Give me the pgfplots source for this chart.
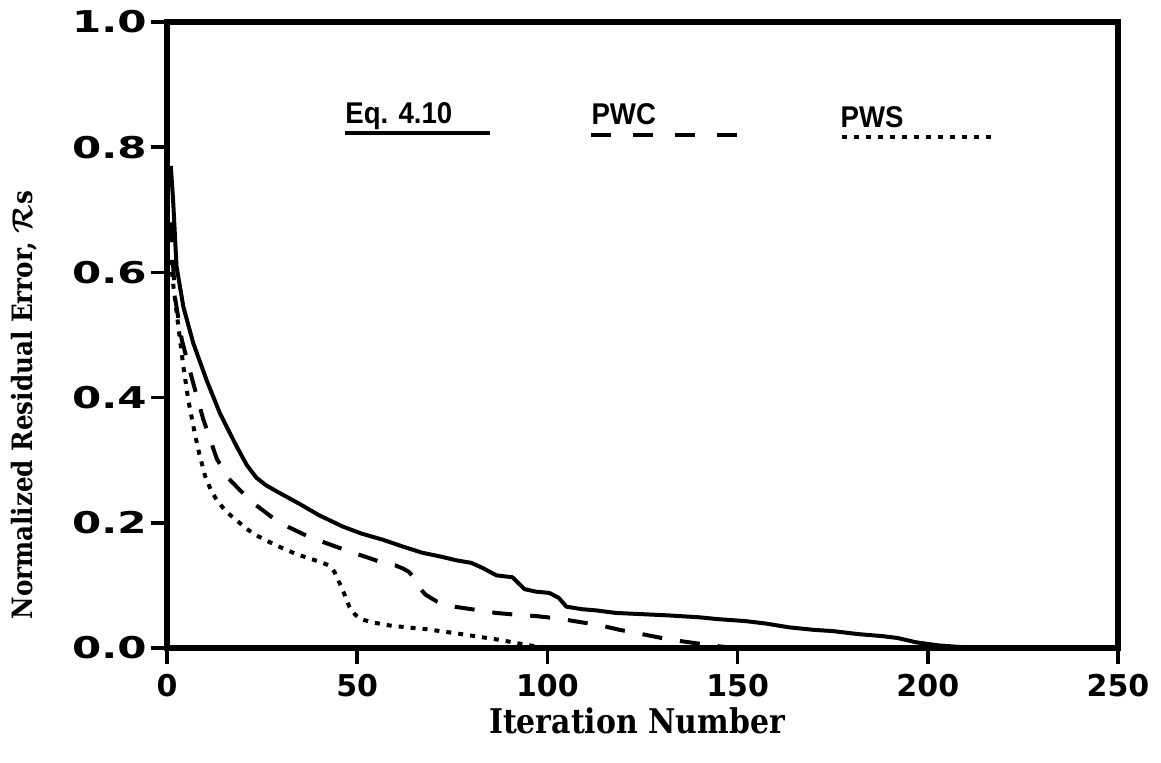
\documentclass[border=0pt]{standalone}
\usepackage{amsmath}
\usepackage{pgfplots}
\pgfplotsset{compat=1.18}
\usepackage{fontspec}
\setmainfont{DejaVu Serif}
\newfontfamily\ytickfont[FakeStretch=1.4]{DejaVu Sans}
\newfontfamily\xtickfont{DejaVu Sans}
\newfontfamily\labfont[FakeStretch=0.88]{DejaVu Serif}
\newfontfamily\legfont[FakeStretch=0.92]{Liberation Sans}

\begin{document}
\begin{tikzpicture}
\begin{axis}[
  scale only axis, width=475.5pt, height=313pt,
  xmin=0, xmax=250, ymin=0, ymax=1,
  axis line style={line width=2.6pt},
  xtick={0,50,100,150,200,250},
  xticklabels={0,50,100,150,200,250},
  ytick={0,0.2,0.4,0.6,0.8,1},
  yticklabels={0.0,0.2,0.4,0.6,0.8,1.0},
  xtick pos=bottom, ytick pos=left,
  tick align=outside,
  major tick length=8pt,
  tick style={line width=1.8pt, draw=black},
  yticklabel style={font=\ytickfont\bfseries\fontsize{15}{15}\selectfont, inner sep=0pt, xshift=-2pt},
  xticklabel style={font=\xtickfont\bfseries\fontsize{15}{15}\selectfont, inner sep=0pt, yshift=-5pt},
]
\addplot[black, line width=2pt, line join=round] coordinates {
(1,0.77)(1.6,0.716)(2.5,0.61)(4.3,0.545)(6.9,0.487)(10.4,0.428)(13.9,0.375)(18.3,0.322)(21,0.292)(23.5,0.272)(26,0.260)(28.9,0.250)(34.9,0.230)(40,0.212)(46.2,0.194)(51,0.183)(56.7,0.173)(62,0.162)(67.2,0.152)(72,0.146)(76.1,0.140)(80,0.136)(82.9,0.128)(86.6,0.116)(90.8,0.113)(94,0.094)(97,0.090)(100.5,0.088)(103,0.080)(105,0.066)(109,0.062)(112.9,0.060)(118,0.056)(125,0.054)(132,0.052)(140,0.049)(145,0.046)(152,0.043)(157.5,0.039)(163.5,0.033)(170,0.029)(175,0.027)(182,0.022)(188,0.019)(192,0.016)(197,0.009)(203,0.004)(210,0.001)(220,0)
};
\addplot[black, line width=2pt, line join=round, dash pattern=on 10pt off 9pt] coordinates {
(1,0.68)(1.3,0.645)(2.1,0.56)(3.9,0.492)(6.9,0.423)(9.5,0.366)(13.1,0.302)(16,0.272)(19.2,0.252)(23,0.230)(27.8,0.208)(32,0.193)(37.5,0.177)(43,0.165)(48,0.154)(53,0.144)(57.7,0.134)(60,0.132)(62,0.127)(63.5,0.122)(65,0.112)(66.5,0.095)(68,0.085)(71,0.074)(74.3,0.067)(80,0.062)(86.5,0.056)(92,0.053)(97,0.051)(103,0.047)(108,0.042)(114,0.036)(119,0.029)(125,0.022)(130,0.016)(135,0.011)(141,0.006)(146,0.002)(150,0)
};
\addplot[black, line width=2pt, line join=round, dash pattern=on 2.5pt off 3.5pt] coordinates {
(1,0.62)(1.7,0.577)(3,0.513)(4.3,0.45)(5.6,0.396)(7.3,0.343)(8.5,0.31)(10,0.275)(11.5,0.253)(13,0.237)(15.5,0.218)(18.3,0.204)(21,0.19)(23.5,0.180)(27,0.169)(30.5,0.159)(34,0.150)(37.5,0.143)(40.5,0.137)(42.5,0.132)(44,0.122)(45,0.108)(46,0.096)(47,0.080)(48,0.065)(49.5,0.053)(51,0.046)(54,0.041)(58.5,0.036)(63,0.033)(68.2,0.030)(73,0.026)(78.7,0.021)(83,0.017)(87.4,0.013)(91,0.009)(94.4,0.005)(98,0.002)(102,0)
};
% legend samples
\addplot[black, line width=2pt, forget plot] coordinates {(46.8,0.822)(84.9,0.822)};
\addplot[black, line width=2pt, dash pattern=on 10pt off 11pt, forget plot] coordinates {(111.5,0.820)(150.6,0.820)};
\addplot[black, line width=2pt, dash pattern=on 2.5pt off 3.5pt, forget plot] coordinates {(177.4,0.816)(216.9,0.816)};
\node[anchor=base west, inner sep=0pt, font=\legfont\bfseries\fontsize{15}{15}\selectfont] at (axis cs:46.8,0.838) {Eq. 4.10};
\node[anchor=base west, inner sep=0pt, font=\legfont\bfseries\fontsize{15}{15}\selectfont] at (axis cs:111.5,0.836) {PWC};
\node[anchor=base west, inner sep=0pt, font=\legfont\bfseries\fontsize{15}{15}\selectfont] at (axis cs:177.0,0.832) {PWS};
\end{axis}
\node[rotate=90, font=\labfont\bfseries\fontsize{14}{14}\selectfont] at (-71.5pt,121.4pt) {Normalized Residual Error, $\boldsymbol{\mathcal{R}}$s};
\node[font=\labfont\bfseries\fontsize{17}{17}\selectfont] at (235pt,-36.5pt) {Iteration Number};
\pgfresetboundingbox
\useasboundingbox (-83.5pt,-57.5pt) rectangle (497pt,324pt);
\end{tikzpicture}
\end{document}
